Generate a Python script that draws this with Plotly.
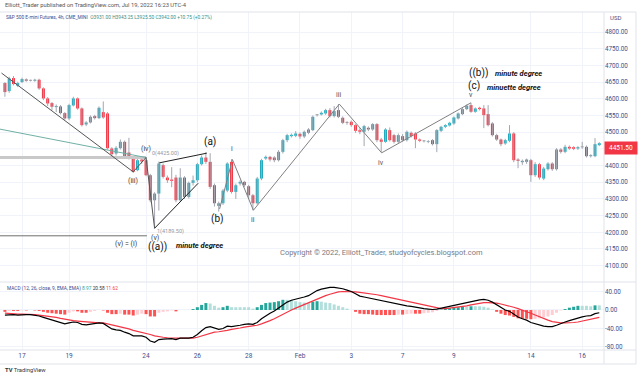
import plotly.graph_objects as go
from plotly.subplots import make_subplots

# ---------------- data (ES 4h bars) ----------------
tick_idx = [4, 15, 33, 45, 57, 69, 81, 93, 105, 123, 135]
tick_txt = ["17", "19", "24", "26", "28", "Feb", "3", "7", "9", "14", "16"]

open_ = [4647, 4623, 4662, 4639, 4650, 4658, 4655, 4654, 4657, 4631,
         4601, 4587, 4575, 4577, 4557, 4541, 4580, 4601, 4571, 4523,
         4529, 4548, 4542, 4560, 4556, 4451, 4436, 4452, 4471, 4439,
         4423, 4386, 4418, 4416, 4371, 4296, 4316, 4401, 4364, 4358,
         4364, 4296, 4364, 4306, 4348, 4356, 4404, 4424, 4411, 4341,
         4279, 4287, 4325, 4411, 4321, 4346, 4351, 4338, 4311, 4287,
         4361, 4421, 4426, 4424, 4416, 4441, 4476, 4488, 4489, 4495,
         4487, 4498, 4506, 4551, 4553, 4556, 4566, 4548, 4566, 4543,
         4528, 4531, 4521, 4506, 4501, 4513, 4508, 4524, 4478, 4471,
         4506, 4491, 4471, 4488, 4476, 4498, 4496, 4478, 4473, 4471,
         4476, 4464, 4504, 4516, 4520, 4526, 4541, 4554, 4569, 4581,
         4561, 4573, 4571, 4554, 4526, 4491, 4478, 4466, 4474, 4496,
         4418, 4410, 4411, 4416, 4371, 4404, 4361, 4389, 4406, 4389,
         4448, 4441, 4456, 4455, 4451, 4455, 4456, 4428, 4428, 4461]
high = [4650, 4666, 4668, 4651, 4663, 4661, 4657, 4660, 4660, 4634,
        4605, 4590, 4583, 4581, 4560, 4585, 4606, 4604, 4574, 4533,
        4550, 4552, 4577, 4592, 4560, 4455, 4458, 4478, 4475, 4483,
        4428, 4420, 4424, 4425, 4375, 4320, 4412, 4406, 4370, 4395,
        4372, 4392, 4368, 4352, 4370, 4408, 4430, 4440, 4437, 4346,
        4292, 4330, 4410, 4419, 4346, 4356, 4354, 4342, 4315, 4366,
        4420, 4430, 4429, 4428, 4446, 4480, 4495, 4496, 4503, 4499,
        4505, 4512, 4550, 4554, 4562, 4570, 4572, 4578, 4584, 4547,
        4533, 4535, 4524, 4512, 4522, 4517, 4527, 4527, 4483, 4512,
        4514, 4495, 4496, 4494, 4505, 4502, 4500, 4481, 4476, 4476,
        4479, 4509, 4519, 4524, 4531, 4547, 4559, 4572, 4583, 4588,
        4574, 4576, 4581, 4581, 4530, 4495, 4481, 4480, 4521, 4500,
        4422, 4418, 4421, 4420, 4410, 4408, 4396, 4410, 4410, 4452,
        4452, 4462, 4460, 4458, 4458, 4471, 4460, 4434, 4482, 4470]
low = [4606, 4618, 4640, 4635, 4647, 4651, 4652, 4651, 4627, 4596,
       4578, 4566, 4560, 4553, 4537, 4536, 4577, 4567, 4517, 4518,
       4526, 4538, 4539, 4540, 4448, 4428, 4430, 4448, 4420, 4418,
       4378, 4383, 4405, 4368, 4290, 4212, 4265, 4361, 4348, 4335,
       4290, 4292, 4300, 4301, 4340, 4350, 4400, 4405, 4330, 4277,
       4262, 4282, 4320, 4316, 4300, 4340, 4336, 4300, 4266, 4283,
       4356, 4417, 4412, 4410, 4412, 4436, 4470, 4484, 4485, 4480,
       4482, 4494, 4503, 4547, 4550, 4552, 4544, 4544, 4542, 4524,
       4522, 4516, 4498, 4494, 4458, 4503, 4504, 4470, 4440, 4468,
       4472, 4466, 4467, 4472, 4472, 4484, 4452, 4470, 4469, 4467,
       4460, 4440, 4500, 4512, 4517, 4522, 4538, 4551, 4566, 4558,
       4558, 4565, 4512, 4517, 4487, 4474, 4458, 4462, 4470, 4410,
       4392, 4402, 4405, 4351, 4366, 4358, 4356, 4385, 4384, 4385,
       4436, 4437, 4447, 4446, 4447, 4450, 4424, 4424, 4425, 4458]
close = [4620, 4661, 4644, 4647, 4659, 4654, 4655.5, 4657, 4631, 4601,
         4586, 4576, 4578, 4557, 4541, 4581, 4601, 4571, 4521, 4529,
         4546, 4542, 4573, 4544, 4452, 4434, 4453, 4471, 4426, 4423,
         4381, 4416, 4412, 4371, 4296, 4316, 4406, 4366, 4356, 4354,
         4296, 4364, 4306, 4348, 4356, 4404, 4424, 4411, 4336, 4287,
         4287, 4325, 4406, 4321, 4341, 4351, 4341, 4311, 4287, 4361,
         4416, 4426, 4418, 4416, 4441, 4476, 4491, 4492, 4496, 4487,
         4501, 4508, 4546, 4551.5, 4558, 4566, 4548, 4563, 4546, 4528,
         4528.5, 4521, 4504, 4501, 4518, 4508, 4524, 4476, 4471, 4508,
         4476, 4471, 4491, 4476, 4501, 4488, 4478, 4474, 4473.5, 4473,
         4464, 4506, 4516, 4521, 4528, 4544, 4556, 4569, 4579, 4561,
         4571, 4569, 4551, 4521, 4491, 4478, 4464, 4476, 4496, 4416,
         4414, 4414, 4418, 4371, 4404, 4364, 4391, 4406, 4389, 4448,
         4441, 4456, 4451, 4450, 4455, 4455.5, 4428, 4431, 4464, 4467]

macd_line = [-11, -10, -10, -11, -10, -10, -10, -11, -13, -16,
             -19, -22, -24, -27, -30, -28, -26, -27, -31, -32,
             -31, -30, -28, -29, -36, -41, -43, -44, -48, -51,
             -56, -56, -56, -59, -67, -70, -64, -63, -63, -62,
             -64, -61, -61, -61, -59, -53, -45, -38, -36, -39,
             -42, -40, -35, -36, -35, -33, -31, -30, -31, -27,
             -19, -12, -7, -2, 5, 12, 17, 21, 23, 25,
             28, 31, 37, 42, 45, 47, 49, 49, 48, 46,
             43, 40, 35, 30, 28, 26, 24, 22, 20, 18,
             16, 14, 12, 10, 9, 8, 6, 4, 3, 2,
             1, 2, 4, 6, 8, 10, 12, 14, 16, 19,
             21, 22, 23, 21, 17, 11, 5, 0, -3, -9,
             -15, -19, -22, -27, -30, -33, -35, -36, -36, -33,
             -29, -26, -23, -20, -17, -15, -13, -12, -8, -6]
signal_line = [-7, -8, -8, -9, -9, -9, -10, -10, -11, -12,
               -13, -15, -16, -18, -20, -22, -23, -24, -25, -26,
               -27, -28, -28, -28, -30, -32, -34, -36, -38, -41,
               -44, -46, -48, -50, -53, -56, -58, -59, -60, -61,
               -61, -61, -61, -61, -61, -59, -56, -53, -50, -48,
               -47, -46, -44, -42, -41, -39, -37, -36, -34, -33,
               -30, -27, -23, -19, -14, -10, -5, 0, 4, 8,
               12, 16, 19, 23, 27, 31, 34, 37, 39, 40,
               40, 40, 39, 38, 37, 35, 34, 33, 31, 29,
               27, 25, 22, 20, 18, 16, 14, 12, 10, 8,
               6, 4, 3, 3, 4, 5, 6, 7, 9, 11,
               13, 14, 16, 16, 16, 15, 13, 11, 9, 6,
               3, 0, -3, -7, -11, -15, -19, -22, -25, -27,
               -28, -28, -28, -27, -26, -24, -22, -20, -18, -16]

price_ticks = [4100, 4150, 4200, 4250, 4300, 4350, 4400, 4500,
               4550, 4600, 4650, 4700, 4750, 4800]
hidden_grid = [4450]
macd_ticks = [-80, -40, 0, 40]
last_price = 4451.50

# ---------------- styling ----------------
UP = "#22abbf"
DN = "#f23645"
GRID = "#f0f3fa"
BORDER = "#e0e3eb"
AXTXT = "#434f8a"
FONT = "Roboto"

n = len(close)
idx = list(range(n))
XR = [-1.15, 140.1]

fig = make_subplots(rows=2, cols=1, shared_xaxes=True, vertical_spacing=0,
                    row_heights=[270 / 338, 68 / 338])

for g in hidden_grid:
    fig.add_shape(type="line", xref="x", yref="y", x0=XR[0], x1=XR[1], y0=g, y1=g,
                  line=dict(color=GRID, width=1), layer="below")

# wicks
wx, wy = [], []
for i in idx:
    wx += [i, i, None]
    wy += [low[i], high[i], None]
fig.add_trace(go.Scatter(x=wx, y=wy, mode="lines", line=dict(color="#a3a6af", width=1),
                         hoverinfo="skip", showlegend=False), 1, 1)

# bodies
base = [min(o, c) for o, c in zip(open_, close)]
hgt = [max(abs(c - o), 1.5) for o, c in zip(open_, close)]
bcol = []
for o, c in zip(open_, close):
    if abs(c - o) < 1:
        bcol.append("#3a3a3a")
    else:
        bcol.append(UP if c > o else DN)
fig.add_trace(go.Bar(x=idx, y=hgt, base=base, width=0.7,
                     marker=dict(color=bcol, line=dict(width=0)),
                     hoverinfo="skip", showlegend=False), 1, 1)

# MACD histogram
hist = [m - s for m, s in zip(macd_line, signal_line)]
hcol = []
for i, h in enumerate(hist):
    prev = hist[i - 1] if i > 0 else h
    if h >= 0:
        hcol.append("#26a69a" if h > prev else "#b2dfdb")
    else:
        hcol.append("#ffcdd2" if h > prev else "#ff5252")
fig.add_trace(go.Bar(x=idx, y=hist, width=0.7, marker=dict(color=hcol, line=dict(width=0)),
                     hoverinfo="skip", showlegend=False), 2, 1)
fig.add_trace(go.Scatter(x=idx, y=signal_line, mode="lines", line=dict(color="#f23645", width=1.2),
                         hoverinfo="skip", showlegend=False), 2, 1)
fig.add_trace(go.Scatter(x=idx, y=macd_line, mode="lines", line=dict(color="#000000", width=1.2),
                         hoverinfo="skip", showlegend=False), 2, 1)

# ---------------- drawings (Elliott wave annotations) ----------------
def seg(x0, y0, x1, y1, color, width=1):
    fig.add_shape(type="line", xref="x", yref="y", x0=x0, y0=y0, x1=x1, y1=y1,
                  line=dict(color=color, width=width), layer="above")

seg(XR[0], 4424, 33, 4424, "#c9c9c9", 3)          # fib 0 level
seg(XR[0], 4189.5, 33.2, 4189.5, "#6f6f6f", 1)    # fib 1 level
seg(XR[0], 4509, 33, 4424, "#6fb0a6", 1)          # teal trend line
seg(-0.8, 4677, 30, 4381, "#555555", 1)
seg(30, 4381, 33, 4424, "#555555", 1)
seg(33, 4424, 35, 4212, "#555555", 1)
seg(35, 4212, 45.2, 4347, "#222222", 1)
seg(36.1, 4408, 47.2, 4437, "#222222", 1)
wave_x = [50.2, 53.2, 58.1, 78.2, 88.1, 109]
wave_y = [4270, 4418, 4266, 4584, 4438, 4588]
for k in range(len(wave_x) - 1):
    seg(wave_x[k], wave_y[k], wave_x[k + 1], wave_y[k + 1], "#808080", 1)

def lab(x, y, text, size=7, color="#3a3a3a", xanchor="center", bold=False, italic=False):
    if bold:
        text = "<b>" + text + "</b>"
    if italic:
        text = "<i>" + text + "</i>"
    fig.add_annotation(x=x, y=y, xref="x", yref="y", text=text, showarrow=False,
                       xanchor=xanchor, yanchor="middle",
                       font=dict(family=FONT, size=size, color=color))

lab(30, 4354, "(iii)", 7)
lab(33, 4449, "(iv)", 7)
lab(34, 4437, "0(4425.00)", 5.5, "#9598a1", "left")
lab(48, 4470, "(a)", 10, "#111111")
lab(53.1, 4449, "i", 7, "#4a4a4a")
lab(49.8, 4240, "(b)", 10, "#111111")
lab(58, 4237, "ii", 7, "#4a4a4a")
lab(35.1, 4201, "1(4189.50)", 5.5, "#9598a1", "left")
lab(35.1, 4183, "(v)", 7)
lab(28.3, 4165, "(v) = (i)", 7, "#333333")
lab(35.6, 4156, "((a))", 10, "#111111")
lab(39.6, 4159, "minute degree", 7.5, "#111111", "left", bold=True, italic=True)
lab(78.1, 4611, "iii", 7, "#555555")
lab(88, 4408, "iv", 7, "#555555")
lab(109, 4611, "v", 7, "#4a4a4a")
lab(110.7, 4677, "((b))", 10, "#111111")
lab(114.2, 4677, "minute degree", 7.5, "#111111", "left", bold=True, italic=True)
lab(109.7, 4638, "(c)", 10, "#111111")
lab(112.3, 4635, "minuette degree", 7.5, "#111111", "left", bold=True, italic=True)
lab(88, 4138, "Copyright © 2022, Elliott_Trader, studyofcycles.blogspot.com", 7.5, "#787b86")

# ---------------- chrome ----------------
def px(x):
    return x / 604.0

def py(y):
    return (350.0 - y) / 338.0

def pline(x0, y0, x1, y1, color=BORDER):
    fig.add_shape(type="line", xref="paper", yref="paper", x0=px(x0), y0=py(y0),
                  x1=px(x1), y1=py(y1), line=dict(color=color, width=1), layer="above")

pline(0, 12, 636, 12)
pline(0, 282, 636, 282)
pline(0, 350, 636, 350)
pline(0, 364, 636, 364)
pline(604, 12, 604, 364)
pline(636, 12, 636, 364)

def ptext(x, y, text, size=6, color="#555555", xanchor="left", bg=None):
    fig.add_annotation(x=px(x), y=py(y), xref="paper", yref="paper", text=text,
                       showarrow=False, xanchor=xanchor, yanchor="middle",
                       font=dict(family=FONT, size=size, color=color),
                       bgcolor=bg, borderpad=1)

ptext(3, 5, "Elliott_Trader published on TradingView.com, Jul 19, 2022 16:23 UTC-4", 5.8, "#555555")
ptext(4, 18, "S&amp;P 500 E-mini Futures, 4h, CME_MINI  "
      "<span style='color:#3a8f88'>O3931.00 H3943.25 L3925.50 C3942.00 +10.75 (+0.27%)</span>",
      4.8, "#3b4a8c")
ptext(5, 288, "MACD (12, 26, close, 9, EMA, EMA) "
      "<span style='color:#26a69a'>8.97</span> <span style='color:#333'>20.58</span> "
      "<span style='color:#f23645'>11.62</span>", 4.8, "#3b4a8c")
ptext(608, 18, "USD", 6, AXTXT)
ptext(3, 370, "<b>TV</b> TradingView", 5.8, "#333333")

fig.add_annotation(x=1.0, y=last_price, xref="paper", yref="y", text="4451.50",
                   showarrow=False, xanchor="left", yanchor="middle",
                   font=dict(family=FONT, size=6.5, color="white"),
                   bgcolor="#f23645", borderpad=2, width=28)

fig.update_layout(
    width=640, height=378,
    margin=dict(l=0, r=36, t=12, b=28),
    paper_bgcolor="white", plot_bgcolor="white",
    showlegend=False, barmode="overlay", hovermode=False,
    font=dict(family=FONT, size=7, color=AXTXT),
)
for ax in ["xaxis", "xaxis2"]:
    fig.layout[ax].update(range=XR, tickvals=tick_idx, ticktext=tick_txt, showgrid=True,
                          gridcolor=GRID, zeroline=False, ticks="", showline=False,
                          tickfont=dict(family=FONT, size=6.5, color=AXTXT))
fig.layout.xaxis.showticklabels = False
fig.layout.xaxis2.showticklabels = True
fig.update_yaxes(row=1, col=1, side="right", range=[4051.1, 4859.9], tickvals=price_ticks,
                 ticktext=["%.2f" % v for v in price_ticks], showgrid=True, gridcolor=GRID,
                 zeroline=False, ticks="", tickfont=dict(family=FONT, size=6.3, color=AXTXT))
fig.update_yaxes(row=2, col=1, side="right", range=[-86.5, 60.5], tickvals=macd_ticks,
                 ticktext=["%.2f" % v for v in macd_ticks], showgrid=True, gridcolor=GRID,
                 zeroline=False, ticks="", tickfont=dict(family=FONT, size=6.3, color=AXTXT))

fig.write_html("out.html", config={"displayModeBar": False, "staticPlot": True},
               post_script="document.body.style.margin='0px';"
                           "document.body.style.overflow='hidden';")
